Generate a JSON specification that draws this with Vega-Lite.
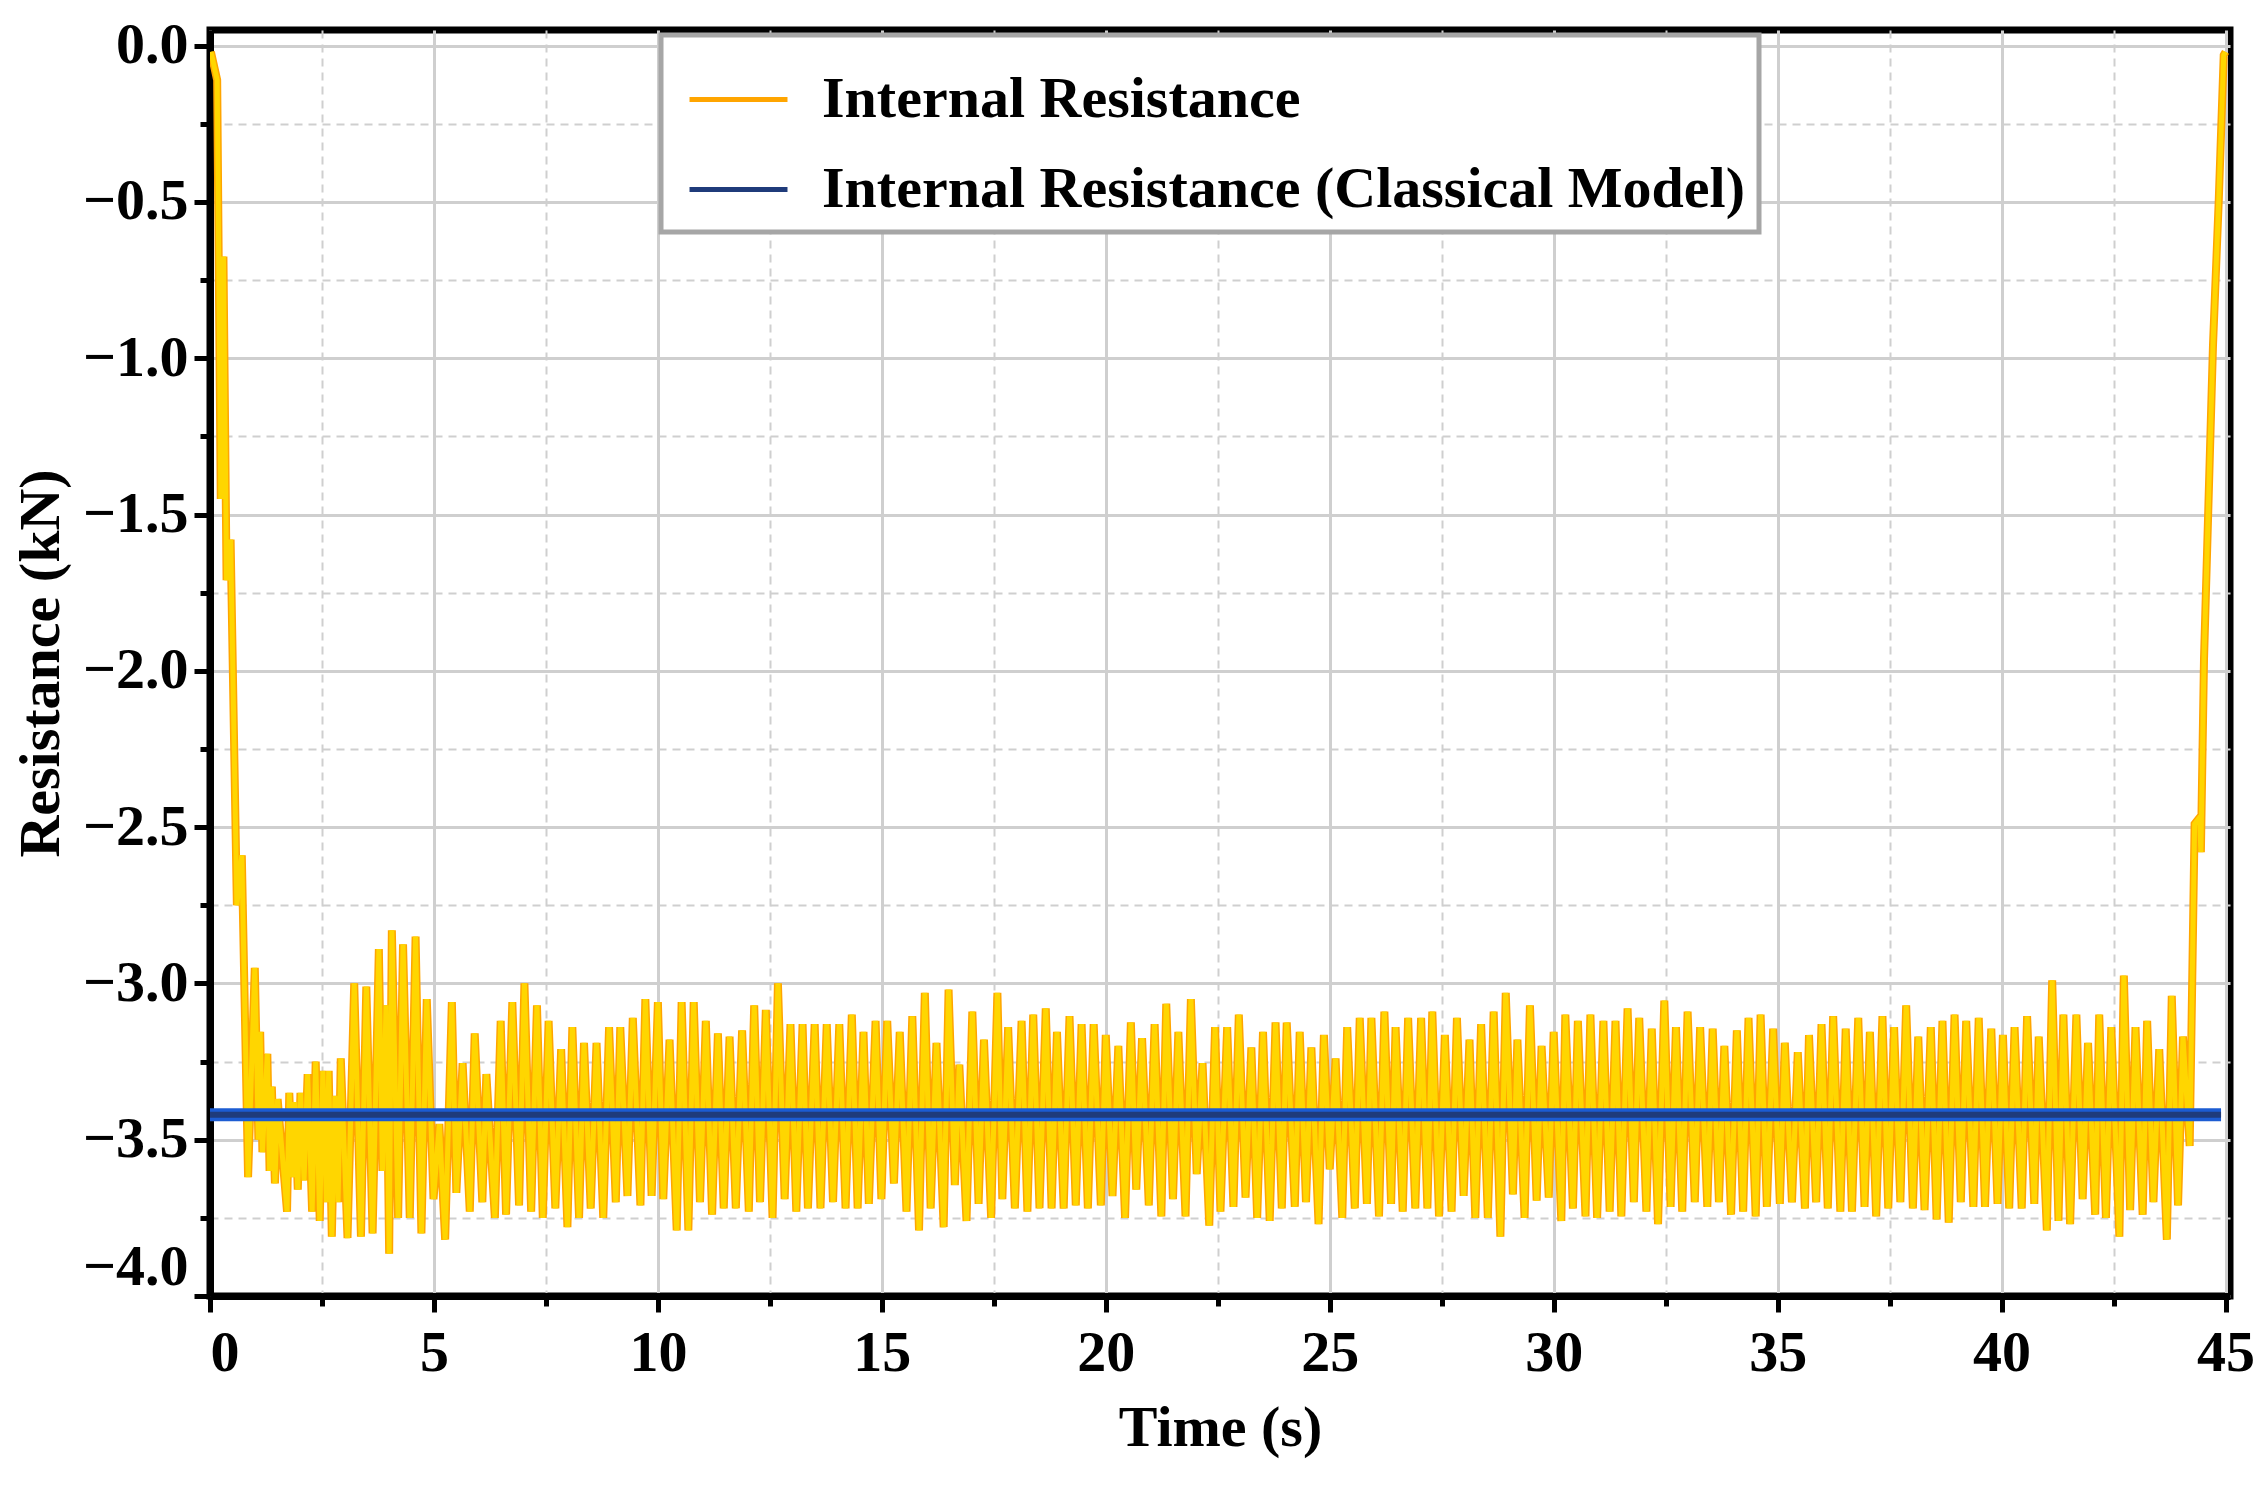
{
"$schema": "https://vega.github.io/schema/vega-lite/v6.json",
"autosize": {"type": "none"},
"width": 2020,
"height": 1266,
"padding": {"left": 210, "top": 30, "right": 29, "bottom": 195},
"background": "white",
"datasets": {
"ir": [
{"t":0.02,"v":-0.02},{"t":0.16,"v":-0.11},{"t":0.24,"v":-1.45},{"t":0.30,"v":-0.675},{"t":0.37,"v":-1.71},{"t":0.46,"v":-1.58},{"t":0.60,"v":-2.75},{"t":0.71,"v":-2.59},
{"t":0.85,"v":-3.62},{"t":1.00,"v":-2.95},{"t":1.08,"v":-3.50},{"t":1.12,"v":-3.155},{"t":1.17,"v":-3.54},{"t":1.28,"v":-3.225},{"t":1.33,"v":-3.60},{"t":1.38,"v":-3.33},{"t":1.45,"v":-3.64},{"t":1.51,"v":-3.37},
{"t":1.72,"v":-3.73},{"t":1.77,"v":-3.35},{"t":1.84,"v":-3.62},{"t":1.89,"v":-3.38},{"t":1.96,"v":-3.66},{"t":2.02,"v":-3.35},{"t":2.10,"v":-3.63},{"t":2.18,"v":-3.29},{"t":2.28,"v":-3.73},{"t":2.36,"v":-3.25},
{"t":2.45,"v":-3.76},{"t":2.52,"v":-3.28},{"t":2.60,"v":-3.70},{"t":2.65,"v":-3.28},{"t":2.72,"v":-3.81},{"t":2.79,"v":-3.36},{"t":2.86,"v":-3.70},{"t":2.92,"v":-3.24},{"t":3.07,"v":-3.815},{"t":3.22,"v":-3.0},
{"t":3.37,"v":-3.81},{"t":3.49,"v":-3.01},{"t":3.63,"v":-3.80},{"t":3.77,"v":-2.89},{"t":3.85,"v":-3.60},{"t":3.93,"v":-3.07},{"t":4.00,"v":-3.865},{"t":4.06,"v":-2.83},{"t":4.20,"v":-3.75},{"t":4.31,"v":-2.875},
{"t":4.46,"v":-3.75},{"t":4.59,"v":-2.85},{"t":4.72,"v":-3.80},{"t":4.84,"v":-3.05},{"t":4.99,"v":-3.69},{"t":5.12,"v":-3.45},{"t":5.25,"v":-3.82},{"t":5.40,"v":-3.06},
{"t":5.50,"v":-3.67},{"t":5.64,"v":-3.255},{"t":5.80,"v":-3.73},{"t":5.91,"v":-3.16},{"t":6.08,"v":-3.70},{"t":6.17,"v":-3.29},{"t":6.36,"v":-3.75},{"t":6.49,"v":-3.12},{"t":6.61,"v":-3.74},{"t":6.75,"v":-3.06},
{"t":6.90,"v":-3.71},{"t":7.02,"v":-3.0},{"t":7.17,"v":-3.73},{"t":7.30,"v":-3.07},{"t":7.43,"v":-3.75},{"t":7.56,"v":-3.12},{"t":7.71,"v":-3.72},{"t":7.84,"v":-3.21},{"t":7.98,"v":-3.78},{"t":8.09,"v":-3.14},
{"t":8.24,"v":-3.75},{"t":8.35,"v":-3.19},{"t":8.50,"v":-3.72},{"t":8.63,"v":-3.19},{"t":8.78,"v":-3.75},{"t":8.91,"v":-3.14},{"t":9.06,"v":-3.70},{"t":9.16,"v":-3.14},{"t":9.32,"v":-3.68},{"t":9.44,"v":-3.11},
{"t":9.61,"v":-3.71},{"t":9.72,"v":-3.05},{"t":9.86,"v":-3.68},{"t":10.0,"v":-3.06},{"t":10.12,"v":-3.69},{"t":10.26,"v":-3.18},{"t":10.42,"v":-3.79},{"t":10.53,"v":-3.06},{"t":10.68,"v":-3.79},{"t":10.80,"v":-3.06},
{"t":10.94,"v":-3.70},{"t":11.07,"v":-3.12},{"t":11.21,"v":-3.74},{"t":11.34,"v":-3.16},{"t":11.47,"v":-3.72},{"t":11.60,"v":-3.17},{"t":11.74,"v":-3.72},{"t":11.88,"v":-3.15},{"t":12.03,"v":-3.73},{"t":12.15,"v":-3.07},
{"t":12.28,"v":-3.70},{"t":12.41,"v":-3.085},{"t":12.56,"v":-3.75},{"t":12.68,"v":-3.0},{"t":12.83,"v":-3.69},{"t":12.96,"v":-3.13},{"t":13.09,"v":-3.73},{"t":13.23,"v":-3.13},{"t":13.35,"v":-3.72},{"t":13.50,"v":-3.13},
{"t":13.63,"v":-3.72},{"t":13.77,"v":-3.13},{"t":13.91,"v":-3.70},{"t":14.05,"v":-3.13},{"t":14.19,"v":-3.72},{"t":14.33,"v":-3.10},{"t":14.46,"v":-3.72},{"t":14.59,"v":-3.155},{"t":14.71,"v":-3.705},{"t":14.86,"v":-3.12},
{"t":14.99,"v":-3.69},{"t":15.12,"v":-3.12},{"t":15.27,"v":-3.64},{"t":15.40,"v":-3.155},{"t":15.55,"v":-3.73},{"t":15.68,"v":-3.105},{"t":15.83,"v":-3.79},{"t":15.96,"v":-3.03},{"t":16.09,"v":-3.72},{"t":16.22,"v":-3.19},
{"t":16.38,"v":-3.78},{"t":16.49,"v":-3.02},{"t":16.63,"v":-3.645},{"t":16.73,"v":-3.26},{"t":16.89,"v":-3.76},{"t":17.02,"v":-3.09},{"t":17.16,"v":-3.705},{"t":17.28,"v":-3.18},{"t":17.44,"v":-3.75},{"t":17.58,"v":-3.03},
{"t":17.69,"v":-3.69},{"t":17.82,"v":-3.14},{"t":17.97,"v":-3.72},{"t":18.12,"v":-3.12},{"t":18.25,"v":-3.73},{"t":18.38,"v":-3.10},{"t":18.52,"v":-3.72},{"t":18.66,"v":-3.08},{"t":18.79,"v":-3.72},{"t":18.91,"v":-3.155},
{"t":19.06,"v":-3.72},{"t":19.19,"v":-3.105},{"t":19.33,"v":-3.71},{"t":19.46,"v":-3.13},{"t":19.60,"v":-3.72},{"t":19.73,"v":-3.13},{"t":19.89,"v":-3.71},{"t":20.0,"v":-3.165},{"t":20.15,"v":-3.68},{"t":20.28,"v":-3.20},
{"t":20.43,"v":-3.75},{"t":20.56,"v":-3.125},{"t":20.68,"v":-3.66},{"t":20.81,"v":-3.175},{"t":20.96,"v":-3.71},{"t":21.09,"v":-3.13},{"t":21.24,"v":-3.745},{"t":21.35,"v":-3.065},{"t":21.50,"v":-3.69},{"t":21.62,"v":-3.155},
{"t":21.78,"v":-3.745},{"t":21.90,"v":-3.05},{"t":22.03,"v":-3.61},{"t":22.16,"v":-3.255},{"t":22.31,"v":-3.775},{"t":22.44,"v":-3.14},{"t":22.56,"v":-3.73},{"t":22.71,"v":-3.14},{"t":22.85,"v":-3.715},{"t":22.97,"v":-3.10},
{"t":23.12,"v":-3.685},{"t":23.25,"v":-3.205},{"t":23.38,"v":-3.75},{"t":23.51,"v":-3.155},{"t":23.66,"v":-3.76},{"t":23.79,"v":-3.125},{"t":23.93,"v":-3.72},{"t":24.04,"v":-3.125},{"t":24.22,"v":-3.715},{"t":24.33,"v":-3.155},
{"t":24.47,"v":-3.70},{"t":24.59,"v":-3.205},{"t":24.75,"v":-3.77},{"t":24.87,"v":-3.165},{"t":25.0,"v":-3.595},{"t":25.13,"v":-3.24},{"t":25.28,"v":-3.75},{"t":25.39,"v":-3.14},{"t":25.56,"v":-3.72},{"t":25.67,"v":-3.11},
{"t":25.83,"v":-3.705},{"t":25.93,"v":-3.11},{"t":26.10,"v":-3.745},{"t":26.22,"v":-3.09},{"t":26.37,"v":-3.705},{"t":26.47,"v":-3.14},{"t":26.63,"v":-3.73},{"t":26.75,"v":-3.11},{"t":26.91,"v":-3.72},{"t":27.04,"v":-3.11},
{"t":27.18,"v":-3.72},{"t":27.29,"v":-3.09},{"t":27.44,"v":-3.745},{"t":27.57,"v":-3.165},{"t":27.72,"v":-3.73},{"t":27.84,"v":-3.11},{"t":27.99,"v":-3.68},{"t":28.12,"v":-3.18},{"t":28.25,"v":-3.75},{"t":28.38,"v":-3.13},
{"t":28.53,"v":-3.75},{"t":28.66,"v":-3.09},{"t":28.81,"v":-3.81},{"t":28.93,"v":-3.03},{"t":29.09,"v":-3.675},{"t":29.19,"v":-3.18},{"t":29.35,"v":-3.75},{"t":29.47,"v":-3.07},{"t":29.62,"v":-3.695},{"t":29.73,"v":-3.20},
{"t":29.89,"v":-3.685},{"t":30.0,"v":-3.155},{"t":30.17,"v":-3.76},{"t":30.26,"v":-3.10},{"t":30.43,"v":-3.72},{"t":30.54,"v":-3.12},{"t":30.71,"v":-3.745},{"t":30.82,"v":-3.10},{"t":30.97,"v":-3.75},{"t":31.11,"v":-3.12},
{"t":31.25,"v":-3.73},{"t":31.38,"v":-3.12},{"t":31.51,"v":-3.745},{"t":31.65,"v":-3.08},{"t":31.79,"v":-3.70},{"t":31.91,"v":-3.11},{"t":32.07,"v":-3.73},{"t":32.19,"v":-3.145},{"t":32.33,"v":-3.77},{"t":32.47,"v":-3.055},
{"t":32.61,"v":-3.715},{"t":32.73,"v":-3.14},{"t":32.87,"v":-3.73},{"t":32.99,"v":-3.09},{"t":33.15,"v":-3.70},{"t":33.27,"v":-3.14},{"t":33.43,"v":-3.715},{"t":33.55,"v":-3.145},{"t":33.69,"v":-3.70},{"t":33.81,"v":-3.20},
{"t":33.96,"v":-3.74},{"t":34.09,"v":-3.15},{"t":34.23,"v":-3.73},{"t":34.35,"v":-3.11},{"t":34.51,"v":-3.745},{"t":34.62,"v":-3.10},{"t":34.76,"v":-3.715},{"t":34.90,"v":-3.145},{"t":35.05,"v":-3.705},{"t":35.16,"v":-3.19},
{"t":35.32,"v":-3.70},{"t":35.45,"v":-3.22},{"t":35.61,"v":-3.72},{"t":35.70,"v":-3.165},{"t":35.86,"v":-3.70},{"t":35.98,"v":-3.13},{"t":36.12,"v":-3.72},{"t":36.24,"v":-3.105},{"t":36.40,"v":-3.73},{"t":36.52,"v":-3.145},
{"t":36.66,"v":-3.73},{"t":36.80,"v":-3.11},{"t":36.94,"v":-3.715},{"t":37.06,"v":-3.155},{"t":37.20,"v":-3.745},{"t":37.34,"v":-3.105},{"t":37.47,"v":-3.72},{"t":37.60,"v":-3.14},{"t":37.74,"v":-3.70},{"t":37.87,"v":-3.07},
{"t":38.02,"v":-3.72},{"t":38.14,"v":-3.17},{"t":38.28,"v":-3.725},{"t":38.42,"v":-3.14},{"t":38.55,"v":-3.755},{"t":38.68,"v":-3.12},{"t":38.82,"v":-3.765},{"t":38.95,"v":-3.10},{"t":39.09,"v":-3.70},{"t":39.21,"v":-3.12},
{"t":39.37,"v":-3.715},{"t":39.49,"v":-3.11},{"t":39.63,"v":-3.715},{"t":39.77,"v":-3.145},{"t":39.91,"v":-3.705},{"t":40.03,"v":-3.165},{"t":40.17,"v":-3.72},{"t":40.29,"v":-3.14},{"t":40.45,"v":-3.72},{"t":40.57,"v":-3.105},
{"t":40.73,"v":-3.705},{"t":40.83,"v":-3.17},{"t":41.01,"v":-3.79},{"t":41.13,"v":-2.99},{"t":41.27,"v":-3.76},{"t":41.38,"v":-3.10},{"t":41.53,"v":-3.77},{"t":41.67,"v":-3.10},{"t":41.81,"v":-3.69},{"t":41.93,"v":-3.19},
{"t":42.09,"v":-3.74},{"t":42.18,"v":-3.10},{"t":42.33,"v":-3.75},{"t":42.45,"v":-3.14},{"t":42.63,"v":-3.81},{"t":42.73,"v":-2.975},{"t":42.87,"v":-3.725},{"t":42.99,"v":-3.14},{"t":43.15,"v":-3.74},{"t":43.25,"v":-3.12},
{"t":43.39,"v":-3.70},{"t":43.52,"v":-3.21},{"t":43.69,"v":-3.82},{"t":43.80,"v":-3.04},{"t":43.94,"v":-3.71},{"t":44.05,"v":-3.17},{"t":44.20,"v":-3.52},{"t":44.31,"v":-2.49},{"t":44.42,"v":-2.47},{"t":44.45,"v":-2.58},
{"t":44.52,"v":-1.96},{"t":44.72,"v":-0.96},{"t":44.85,"v":-0.49},{"t":44.96,"v":-0.03},{"t":45.0,"v":-0.02}
],
"cm": [{"t":0.0,"v":-3.42},{"t":44.9,"v":-3.42}]
},
"encoding": {
"x": {"field": "t", "type": "quantitative",
 "scale": {"domain": [0, 45.1], "nice": false, "zero": false},
 "axis": {"title": "Time (s)", "values": [0,2.5,5,7.5,10,12.5,15,17.5,20,22.5,25,27.5,30,32.5,35,37.5,40,42.5,45],
  "labelExpr": "datum.value % 5 === 0 ? format(datum.value, 'd') : ''",
  "gridDash": {"condition": {"test": "datum.value % 5 !== 0", "value": [8, 6]}, "value": []},
  "gridWidth": {"condition": {"test": "datum.value % 5 !== 0", "value": 2}, "value": 3},
  "tickSize": {"condition": {"test": "datum.value % 5 !== 0", "value": 10}, "value": 16},
  "labelPadding": 12, "titlePadding": 17, "labelFlush": 2}},
"y": {"field": "v", "type": "quantitative",
 "scale": {"domain": [-4.0, 0.05], "nice": false, "zero": false},
 "axis": {"title": "Resistance (kN)", "values": [0,-0.25,-0.5,-0.75,-1,-1.25,-1.5,-1.75,-2,-2.25,-2.5,-2.75,-3,-3.25,-3.5,-3.75,-4],
  "labelExpr": "abs(datum.value*2 - round(datum.value*2)) < 0.001 ? format(datum.value, '.1f') : ''",
  "gridDash": {"condition": {"test": "abs(datum.value*2 - round(datum.value*2)) > 0.001", "value": [8, 6]}, "value": []},
  "gridWidth": {"condition": {"test": "abs(datum.value*2 - round(datum.value*2)) > 0.001", "value": 2}, "value": 3},
  "tickSize": {"condition": {"test": "abs(datum.value*2 - round(datum.value*2)) > 0.001", "value": 10}, "value": 16},
  "labelPadding": 6, "titlePadding": 12, "labelFlush": true}}
},
"layer": [
{"data": {"name": "ir"}, "mark": {"type": "line", "strokeWidth": 8, "strokeJoin": "miter", "clip": true},
 "encoding": {"color": {"datum": "Internal Resistance", "type": "nominal",
   "scale": {"domain": ["Internal Resistance", "Internal Resistance (Classical Model)"], "range": ["#FFA500", "#1F3B7A"]}}}},
{"data": {"name": "ir"}, "mark": {"type": "line", "strokeWidth": 5, "color": "#FFD600", "clip": true}, "encoding": {}},
{"data": {"name": "cm"}, "mark": {"type": "line", "strokeWidth": 13, "color": "#1C5CD2", "clip": true}, "encoding": {}},
{"data": {"name": "cm"}, "mark": {"type": "line", "strokeWidth": 6, "clip": true},
 "encoding": {"color": {"datum": "Internal Resistance (Classical Model)", "type": "nominal"}}}
],
"config": {
"font": "Liberation Serif",
"view": {"stroke": "black", "strokeWidth": 7},
"axis": {
 "domainColor": "black", "domainWidth": 7,
 "tickColor": "black", "tickWidth": 5,
 "gridColor": "#CFCFCF",
 "labelFont": "Liberation Serif", "labelFontSize": 58, "labelFontWeight": "bold", "labelColor": "black",
 "titleFont": "Liberation Serif", "titleFontSize": 58, "titleFontWeight": "bold", "titleColor": "black",
 "labelOverlap": false
},
"legend": {
 "orient": "none", "legendX": 451, "legendY": 5,
 "title": null,
 "strokeColor": "#A6A6A6", "strokeWidth": 5, "fillColor": "white", "padding": 13,
 "symbolType": "stroke", "symbolSize": 9600, "symbolStrokeWidth": 5, "symbolOffset": 13,
 "labelFont": "Liberation Serif", "labelFontSize": 58, "labelFontWeight": "bold", "labelColor": "black",
 "labelOffset": 32, "labelLimit": 2000, "rowPadding": 9
}
}
}
